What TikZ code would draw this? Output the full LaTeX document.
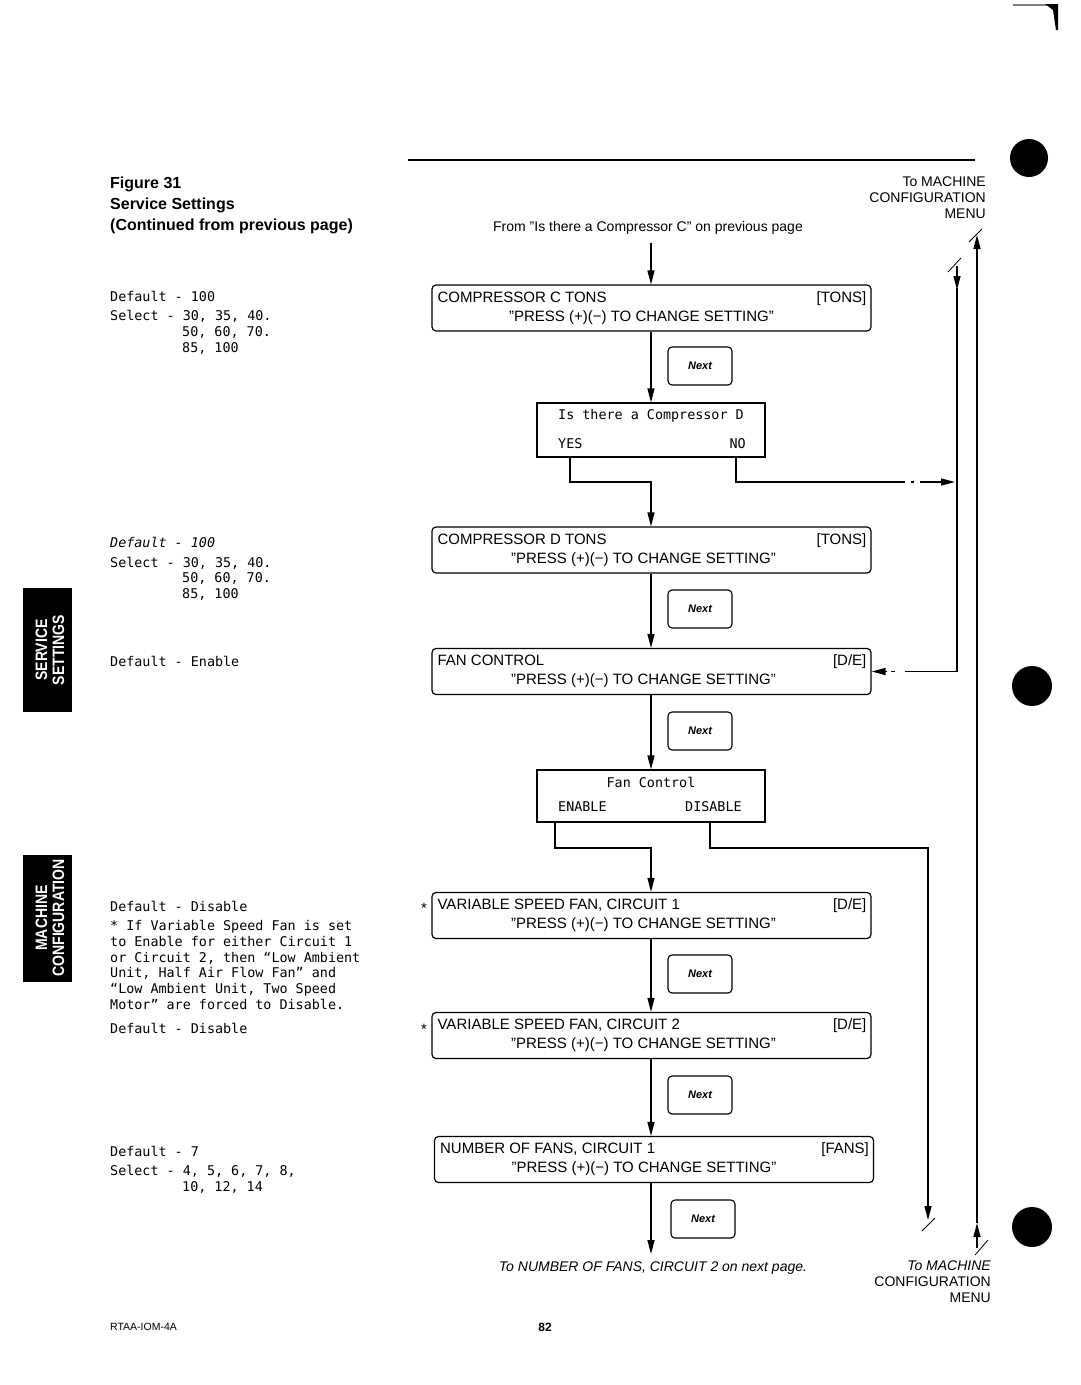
\documentclass[tikz,border=0pt]{standalone}
\usepackage{fontspec}
\setmainfont{Liberation Sans}
\newfontfamily\monof{DejaVu Sans Mono}
\newfontfamily\tabf{Liberation Sans}[FakeStretch=0.85]
\usetikzlibrary{arrows.meta,calc}
\newcommand\qq{\char34 }
\newcommand\mymainbox[5]{%
  \node[mbox] (#1) at (#2) {};
  \node[btxt,anchor=base west] (#1t) at ([shift={(6,18)}]#1.north west) {#3};
  \node[btxt,anchor=base east] (#1u) at ([shift={(-5,18)}]#1.north east) {#4};
  \node[btxt,anchor=base] (#1p) at ([shift={(#5,37)}]#1.north) {\qq PRESS (+)(−) TO CHANGE SETTING\qq};
}
\begin{document}
\begin{tikzpicture}[x=1pt,y=-1pt,
  mbox/.style={draw,line width=1.2pt,rounded corners=4pt,minimum width=439pt,minimum height=46pt,inner sep=0pt},
  nextbox/.style={draw,line width=1.1pt,rounded corners=4pt,minimum width=64pt,minimum height=38pt,inner sep=0pt,font=\fontsize{11}{12}\selectfont\bfseries\itshape},
  dbox/.style={draw,line width=1.1pt,minimum width=228pt,minimum height=54pt,inner sep=0pt},
  btxt/.style={font=\fontsize{15}{17}\selectfont,inner sep=0pt},
  stxt/.style={font=\fontsize{14}{16}\selectfont,inner sep=0pt},
  mono/.style={font=\monof\fontsize{13.4}{16}\selectfont,inner sep=0pt,anchor=base west},
  hdr/.style={font=\fontsize{16}{18}\selectfont\bfseries,inner sep=0pt,anchor=base west},
  tabtxt/.style={rotate=90,white,font=\tabf\bfseries\fontsize{16.5}{17}\selectfont,align=center,inner sep=0pt},
  conn/.style={line width=1.4pt},
  arr/.style={conn,-{Triangle[length=14pt,width=7pt]}},
  slash/.style={line width=0.8pt}]
\useasboundingbox[fill=white] (0,0) rectangle (1080,1385);

% corner mark
\draw[gray,line width=1.2pt] (1013,5) -- (1050,5);
\fill (1045,4) -- (1058,4) -- (1058,30) -- (1056,30) -- (1053,10) -- cycle;

% header
\node[hdr] (fig) at (110,188) {Figure 31};
\node[hdr] (svc) at (110,209) {Service Settings};
\node[hdr] (cont) at (110,230) {(Continued from previous page)};

\draw[line width=1.3pt] (408,160) -- (975,160);

% big dots
\fill (1029,158) circle (19pt);
\fill (1032,686) circle (20pt);
\fill (1032,1227) circle (20pt);

% tabs
\fill (23,588) rectangle (72,712);
\node[tabtxt] (tab1) at (50,650) {SERVICE\\SETTINGS};
\fill (23,855) rectangle (72,982);
\node[tabtxt] (tab2) at (50,918) {MACHINE\\CONFIGURATION};

% top right labels
\node[stxt,anchor=base east] (tm1) at (986,186) {To MACHINE};
\node[stxt,anchor=base east] (tm2) at (986,202) {CONFIGURATION};
\node[stxt,anchor=base east] (tm3) at (986,218) {MENU};

\node[font=\fontsize{14}{15}\selectfont,inner sep=0pt,anchor=base] (from) at (648,231) {From \qq Is there a Compressor C\qq{} on previous page};

\coordinate (ax) at (651,0);

% boxes
\mymainbox{compC}{651.5,308}{COMPRESSOR C TONS}{[TONS]}{-10}
\node[nextbox] (n1) at (700,366) {Next};
\node[dbox] (isD) at (651,430) {};
\node[mono] (isDt) at (558,419) {Is there a Compressor D};
\node[mono] (yes) at (558,448) {YES};
\node[mono,anchor=base east] (no) at (746,448) {NO};

\mymainbox{compD}{651.5,550}{COMPRESSOR D TONS}{[TONS]}{-8}
\node[nextbox] (n2) at (700,609) {Next};

\mymainbox{fanC}{651.5,671.5}{FAN CONTROL}{[D/E]}{-8}
\node[nextbox] (n3) at (700,731) {Next};
\node[dbox,minimum height=52pt] (fanD) at (651,796) {};
\node[mono,anchor=base] (fanDt) at (651,787) {Fan Control};
\node[mono] (en) at (558,811) {ENABLE};
\node[mono] (dis) at (685,811) {DISABLE};

\mymainbox{vsfA}{651.5,915.5}{VARIABLE SPEED FAN, CIRCUIT 1}{[D/E]}{-8}
\node[btxt,anchor=base] (astA) at (424,913) {*};
\node[nextbox] (n4) at (700,974) {Next};

\mymainbox{vsfB}{651.5,1035.5}{VARIABLE SPEED FAN, CIRCUIT 2}{[D/E]}{-8}
\node[btxt,anchor=base] (astB) at (424,1034) {*};
\node[nextbox] (n5) at (700,1095) {Next};

\mymainbox{numF}{654,1159.5}{NUMBER OF FANS, CIRCUIT 1}{[FANS]}{-10}
\node[nextbox] (n6) at (703,1219) {Next};
\coordinate (endN) at (651,1254);
\node[font=\fontsize{14}{15}\selectfont\itshape,inner sep=0pt,anchor=base] (toN) at (653,1271) {To NUMBER OF FANS, CIRCUIT 2 on next page.};

% bottom right labels
\node[stxt,anchor=base east] (bm1) at (991,1270) {\itshape To MACHINE};
\node[stxt,anchor=base east] (bm2) at (991,1286) {CONFIGURATION};
\node[stxt,anchor=base east] (bm3) at (991,1302) {MENU};

% connectors
\draw[arr] ([yshift=-9pt]ax |- from.south) -- (ax |- compC.north);
\draw[arr] (ax |- compC.south) -- (ax |- isD.north);
\draw[arr] (570,457) -- (570,482) -- (651,482) -- (ax |- compD.north);
\draw[arr,dash pattern=on 194pt off 6pt on 3pt off 6pt on 100pt] (736,457) -- (736,482) -- (955,482);
\draw[arr] (ax |- compD.south) -- (ax |- fanC.north);
\draw[arr] (ax |- fanC.south) -- (ax |- fanD.north);
\draw[arr] (555,822) -- (555,848) -- (651,848) -- (ax |- vsfA.north);
\coordinate (toMC1) at (928,1220);
\draw[arr] (710,822) -- (710,848) -- (928,848) -- (toMC1);
\draw[arr] (ax |- vsfA.south) -- (ax |- vsfB.north);
\draw[arr] (ax |- vsfB.south) -- (ax |- numF.north);
\draw[arr] (ax |- numF.south) -- (endN);

% return line into FAN CONTROL
\draw[arr] (957,266) -- (957,290);
\draw[conn] (957,288) -- (957,671.5) -- (905,671.5);
\draw[conn] (895,671.5) -- (891,671.5);
\draw[arr] (887,671.5) -- (fanC.east);

% line to machine configuration menu
\draw[arr] (977,1248) -- (977,1223);
\draw[arr] (977,1223) -- (977,235);

% break slashes
\draw[slash] (948,272) -- (961,258);
\draw[slash] (969,242) -- (982,229);
\draw[slash] (975,1255) -- (988,1240);
\draw[slash] (922,1231) -- (935,1218);

% left side notes
\node[mono] (a1) at (110,301) {Default - 100};
\node[mono] (a2) at (110,320) {Select - 30, 35, 40.};
\node[mono] (a3) at (182,336) {50, 60, 70.};
\node[mono] (a4) at (182,352) {85, 100};

\node[mono,font=\monof\itshape\fontsize{13.4}{16}\selectfont] (b1) at (110,547) {Default - 100};
\node[mono] (b2) at (110,567) {Select - 30, 35, 40.};
\node[mono] (b3) at (182,582) {50, 60, 70.};
\node[mono] (b4) at (182,598) {85, 100};

\node[mono] (c1) at (110,666) {Default - Enable};

\node[mono] (d1) at (110,911) {Default - Disable};
\node[mono] (d2) at (110,930) {* If Variable Speed Fan is set};
\node[mono] (d3) at (110,946) {to Enable for either Circuit 1};
\node[mono] (d4) at (110,962) {or Circuit 2, then “Low Ambient};
\node[mono] (d5) at (110,977) {Unit, Half Air Flow Fan” and};
\node[mono] (d6) at (110,993) {“Low Ambient Unit, Two Speed};
\node[mono] (d7) at (110,1009) {Motor” are forced to Disable.};
\node[mono] (d8) at (110,1033) {Default - Disable};

\node[mono] (e1) at (110,1156) {Default - 7};
\node[mono] (e2) at (110,1175) {Select - 4, 5, 6, 7, 8,};
\node[mono] (e3) at (182,1191) {10, 12, 14};

% footer
\node[font=\fontsize{10.5}{12}\selectfont,inner sep=0pt,anchor=base west] (foot1) at (110,1330) {RTAA-IOM-4A};
\node[font=\fontsize{12}{14}\selectfont\bfseries,inner sep=0pt,anchor=base] (foot2) at (545,1331) {82};
\end{tikzpicture}
\end{document}
